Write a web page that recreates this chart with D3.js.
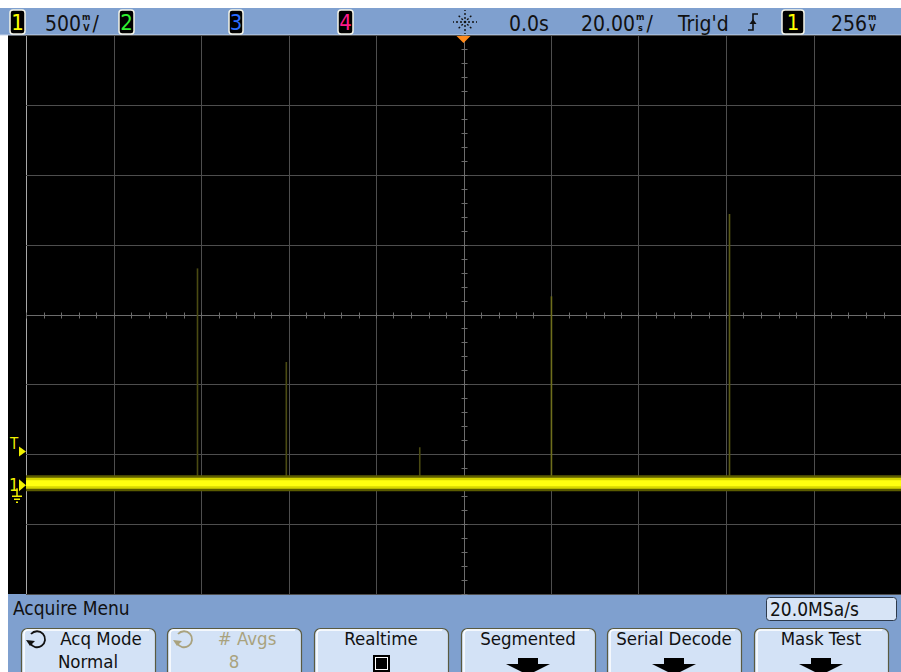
<!DOCTYPE html>
<html><head><meta charset="utf-8">
<script src="https://cdn.jsdelivr.net/npm/d3@7"></script>
<style>
body{margin:0;background:#fff;}
svg{display:block;font-family:"Liberation Sans Narrow","DejaVu Sans Condensed","Liberation Sans",sans-serif;}
</style></head><body>
<svg id="scope" width="901" height="672"></svg>
<script>
// scope settings
var voltsPerDiv = 0.5, msPerDiv = 20, centerVolts = 1.2;
var trigLevel = 0.256;

// channel 1 baseline, flat across the record
var traceTimes = [-100, 100];
var traceVolts = [0, 0];

// narrow glitches on channel 1 (ms, V)
var spikeTimes = [-60.8, -40.5, -10.0, 20.1, 60.8];
var spikeVolts = [1.53, 0.86, 0.25, 1.33, 1.92];
var spikeShade = ["#4a4a12", "#4a4a12", "#4a4a12", "#6e6e1c", "#5a5a16"];

// softkeys
var keyTop = ["Acq Mode", "# Avgs", "Realtime", "Segmented", "Serial Decode", "Mask Test"];
var keyBottom = ["Normal", "8", "box", "arrow", "arrow", "arrow"];
var keyLeft = [21, 167, 314, 461, 607, 754];

var W = 901, H = 672;
var svg = d3.select("#scope");

var x = d3.scaleLinear().domain([-5 * msPerDiv, 5 * msPerDiv]).range([26, 901]);
var y = d3.scaleLinear().domain([centerVolts - 4 * voltsPerDiv, centerVolts + 4 * voltsPerDiv]).range([594, 35]);

// screen areas
svg.append("rect").attr("x", 0).attr("y", 8).attr("width", W).attr("height", 27).attr("fill", "#7fa0cf");
svg.append("rect").attr("x", 8).attr("y", 35).attr("width", W - 8).attr("height", 559).attr("fill", "#000");
svg.append("rect").attr("x", 8).attr("y", 594).attr("width", W - 8).attr("height", 78).attr("fill", "#7fa0cf");
svg.append("line").attr("x1", 0).attr("x2", W).attr("y1", 35).attr("y2", 35).attr("stroke", "#c9d6ea").attr("stroke-width", 1);

// graticule
var grid = svg.append("g");
var xDivs = d3.range(-5, 6).map(function(d) { return d * msPerDiv; });
var yDivs = d3.range(-4, 5).map(function(d) { return centerVolts + d * voltsPerDiv; });

grid.selectAll(".vg").data(xDivs).enter().append("line")
  .attr("x1", function(d) { return Math.round(x(d)) + 0.5; })
  .attr("x2", function(d) { return Math.round(x(d)) + 0.5; })
  .attr("y1", 35).attr("y2", 594)
  .attr("stroke", function(d, i) { return i == 0 ? "#a8a8a8" : (d == 0 ? "#6c6c6c" : "#4e4e4e"); })
  .attr("stroke-width", 1);

grid.selectAll(".hg").data(yDivs).enter().append("line")
  .attr("x1", 26).attr("x2", W)
  .attr("y1", function(d) { return Math.round(y(d)) + 0.5; })
  .attr("y2", function(d) { return Math.round(y(d)) + 0.5; })
  .attr("stroke", function(d) { return d == centerVolts ? "#6c6c6c" : "#4e4e4e"; })
  .attr("stroke-width", 1);

// minor ticks on the centre axes
var cy = Math.round(y(centerVolts)) + 0.5, cx = Math.round(x(0)) + 0.5;
grid.selectAll(".tx").data(d3.range(-100, 100.1, 4)).enter().append("line")
  .attr("x1", function(d) { return Math.round(x(d)) + 0.5; })
  .attr("x2", function(d) { return Math.round(x(d)) + 0.5; })
  .attr("y1", cy - 3).attr("y2", cy + 3)
  .attr("stroke", "#6c6c6c");
grid.selectAll(".ty").data(d3.range(-2, 2.01, 0.1)).enter().append("line")
  .attr("y1", function(d) { return Math.round(y(centerVolts + d)) + 0.5; })
  .attr("y2", function(d) { return Math.round(y(centerVolts + d)) + 0.5; })
  .attr("x1", cx - 3).attr("x2", cx + 3)
  .attr("stroke", "#6c6c6c");

// glitches
svg.selectAll(".spike").data(spikeTimes).enter().append("line")
  .attr("x1", function(d) { return x(d); })
  .attr("x2", function(d) { return x(d); })
  .attr("y1", y(0))
  .attr("y2", function(d, i) { return y(spikeVolts[i]); })
  .attr("stroke", function(d, i) { return spikeShade[i]; })
  .attr("stroke-width", 1.6);

// trace
var pts = traceTimes.map(function(t, i) { return [x(t), y(traceVolts[i]) + 1]; });
var line = d3.line();
svg.append("path").attr("d", line(pts)).attr("stroke", "#5c5c00").attr("stroke-width", 16).attr("fill", "none");
svg.append("path").attr("d", line(pts)).attr("stroke", "#d6d600").attr("stroke-width", 11).attr("fill", "none");
svg.append("path").attr("d", line(pts)).attr("stroke", "#ffff10").attr("stroke-width", 6).attr("fill", "none");

// trigger position marker
svg.append("path").attr("d", "M" + (x(0) - 7) + ",36 L" + (x(0) + 7) + ",36 L" + x(0) + ",43 Z").attr("fill", "#ff8a1c");

// trigger level marker
var ty = y(trigLevel) + 5;
svg.append("text").attr("x", 10).attr("y", ty - 2).attr("fill", "#f0f000").attr("font-size", 15).text("T");
svg.append("path").attr("d", "M19," + (ty - 5) + " L26," + ty + " L19," + (ty + 5) + " Z").attr("fill", "#f0f000");

// ground marker
var gy = y(0) + 3;
svg.append("text").attr("x", 9).attr("y", gy + 6).attr("fill", "#f0f000").attr("font-size", 17).text("1");
svg.append("path").attr("d", "M19," + (gy - 6) + " L26," + gy + " L19," + (gy + 6) + " Z").attr("fill", "#f0f000");
svg.append("path").attr("d", "M17," + (gy + 3) + " V" + (gy + 11) + " M12," + (gy + 11) + " H22 M14," + (gy + 14) + " H20 M16," + (gy + 17) + " H18")
  .attr("stroke", "#f0f000").attr("stroke-width", 1.5).attr("fill", "none");

// ---------- status line ----------
function chanBox(x0, w, label, col) {
  svg.append("rect").attr("x", x0).attr("y", 10).attr("width", w).attr("height", 24).attr("rx", 3)
    .attr("fill", "#000").attr("stroke", "#f4f4e8").attr("stroke-width", 1.5);
  svg.append("text").attr("x", x0 + w / 2).attr("y", 30).attr("text-anchor", "middle")
    .attr("fill", col).attr("font-size", 22).text(label);
}
chanBox(10, 15, "1", "#ffff00");
chanBox(119, 15, "2", "#30f030");
chanBox(229, 14, "3", "#2a6cff");
chanBox(338, 15, "4", "#ff1a8c");
chanBox(782, 22, "1", "#ffff00");

// value with a small stacked unit (m over V)
function unitText(x0, num, top, bot, tail) {
  var t = svg.append("text").attr("x", x0).attr("y", 31).attr("font-size", 21).attr("fill", "#111").text(num);
  var w = t.node().getComputedTextLength();
  var u = svg.append("text").attr("x", x0 + w + 1).attr("y", 20).attr("font-size", 9).attr("font-weight", "bold").attr("fill", "#111").text(top);
  var uw = u.node().getComputedTextLength();
  svg.append("text").attr("x", x0 + w + 1 + uw / 2).attr("y", 31).attr("text-anchor", "middle")
    .attr("font-size", 9).attr("font-weight", "bold").attr("fill", "#111").text(bot);
  if (tail) svg.append("text").attr("x", x0 + w + uw + 3).attr("y", 31).attr("font-size", 21).attr("fill", "#111").text(tail);
}
unitText(45, "500", "m", "V", "/");
unitText(581, "20.00", "m", "s", "/");
unitText(831, "256", "m", "V", "");

svg.append("text").attr("x", 509).attr("y", 31).attr("font-size", 21).attr("fill", "#111").text("0.0s");
svg.append("text").attr("x", 678).attr("y", 31).attr("font-size", 21).attr("fill", "#111").text("Trig'd");

// run indicator (sparkle)
var star = svg.append("g").attr("transform", "translate(465,22)");
d3.range(8).forEach(function(k) {
  var a = k * Math.PI / 4, r1 = 3, r2 = (k % 2 ? 10 : 12);
  star.append("line").attr("x1", r1 * Math.cos(a)).attr("y1", r1 * Math.sin(a))
    .attr("x2", r2 * Math.cos(a)).attr("y2", r2 * Math.sin(a))
    .attr("stroke", "#111").attr("stroke-width", 1.4).attr("stroke-dasharray", "2,2");
});
star.append("circle").attr("r", 1.3).attr("fill", "#111");

// rising edge symbol
svg.append("path").attr("d", "M748,30 H753 V14 H758").attr("stroke", "#111").attr("stroke-width", 1.6).attr("fill", "none");
svg.append("path").attr("d", "M749.5,24 L753,19 L756.5,24 Z").attr("fill", "#111");

// ---------- softkey menu ----------
svg.append("text").attr("x", 13).attr("y", 615).attr("font-size", 19).attr("fill", "#111").text("Acquire Menu");
svg.append("rect").attr("x", 766.5).attr("y", 597.5).attr("width", 130).attr("height", 23).attr("rx", 3)
  .attr("fill", "#d7e4f6").attr("stroke", "#2d3a4c").attr("stroke-width", 1);
svg.append("text").attr("x", 770).attr("y", 616).attr("font-size", 19).attr("fill", "#111").text("20.0MSa/s");

keyLeft.forEach(function(kx, i) {
  var g = svg.append("g").attr("transform", "translate(" + kx + ",628)");
  g.append("rect").attr("x", 0.5).attr("y", 0.5).attr("width", 134).attr("height", 50).attr("rx", 6)
    .attr("fill", "#d3e2f6").attr("stroke", "#5a5a40").attr("stroke-width", 1.2);
  g.append("path").attr("d", "M3,48 V6 Q3,2 7,2 H128").attr("stroke", "#fff").attr("stroke-width", 1.5).attr("fill", "none");
  var col = i == 1 ? "#a9a27e" : "#111";
  var cxk = i < 2 ? 80 : 67;
  g.append("text").attr("x", cxk).attr("y", 17).attr("text-anchor", "middle").attr("font-size", 18.5).attr("fill", col).text(keyTop[i]);
  if (i < 2) {
    // rotate icon
    var ic = g.append("g").attr("transform", "translate(" + (i == 0 ? 16 : 17) + ",11)");
    ic.append("path").attr("d", "M-6,-5 A8,8 0 1,1 -7,4").attr("stroke", col).attr("stroke-width", 1.8).attr("fill", "none");
    ic.append("path").attr("d", "M-11,1 L-7,7 L-2,2 Z").attr("fill", col);
    g.append("text").attr("x", 67).attr("y", 39.5).attr("text-anchor", "middle").attr("font-size", 18.5).attr("fill", col).text(keyBottom[i]);
  } else if (keyBottom[i] == "box") {
    g.append("rect").attr("x", 59).attr("y", 27).attr("width", 17).attr("height", 17).attr("fill", "#000");
    g.append("rect").attr("x", 61.5).attr("y", 29.5).attr("width", 12).attr("height", 12).attr("fill", "#000")
      .attr("stroke", "#fff").attr("stroke-width", 1);
  } else {
    g.append("path").attr("d", "M57,30 H77 V36 H89 L67,47 L45,36 H57 Z").attr("fill", "#000");
  }
});
</script>
</body></html>
